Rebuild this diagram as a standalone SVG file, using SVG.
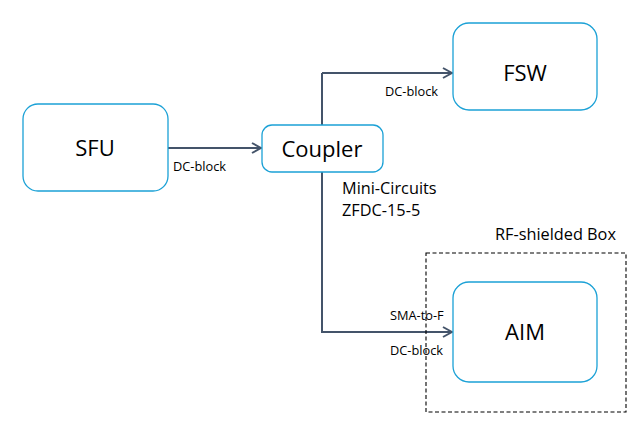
<svg xmlns="http://www.w3.org/2000/svg" width="642" height="433" viewBox="0 0 642 433">
<style>
.node{fill:#fff;stroke:#1ba1d6;stroke-width:1.3}
.big{font-family:"Open Sans","Liberation Sans",sans-serif;font-size:22px;fill:#000;text-anchor:middle}
.lbl{font-family:"Open Sans","Liberation Sans",sans-serif;font-size:12.8px;fill:#000}
.mid{font-family:"Open Sans","Liberation Sans",sans-serif;font-size:16.3px;fill:#000}
.wire{fill:none;stroke:#44546a;stroke-width:2}
</style>
<defs>
<marker id="arr" viewBox="0 0 12 12" refX="11" refY="6" markerWidth="12" markerHeight="12" markerUnits="userSpaceOnUse" orient="auto">
<path d="M2,1 L11,6 L2,11" fill="none" stroke="#44546a" stroke-width="2"/>
</marker>
</defs>
<rect width="642" height="433" fill="#fff"/>
<g id="connectors">
<line class="wire" x1="168" y1="148" x2="261" y2="148" marker-end="url(#arr)"/>
<line class="wire" x1="322" y1="125" x2="322" y2="73"/>
<polyline class="wire" points="322,73 452,73" marker-end="url(#arr)"/>
<polyline class="wire" points="322,172 322,332 452,332" marker-end="url(#arr)"/>
</g>
<g id="box">
<rect x="426" y="253" width="200" height="159" fill="none" stroke="#000" stroke-width="1.1" stroke-dasharray="4,2.5"/>
<text class="mid" x="495" y="240">RF-shielded Box</text>
</g>
<g id="sfu">
<rect class="node" x="23" y="104" width="145" height="87" rx="15"/>
<text class="big" x="95" y="156">SFU</text>
</g>
<g id="coupler">
<rect class="node" x="262" y="125" width="121" height="47" rx="10"/>
<text class="big" x="322" y="157">Coupler</text>
</g>
<g id="fsw">
<rect class="node" x="453" y="23" width="144" height="87" rx="16"/>
<text class="big" x="525" y="81">FSW</text>
</g>
<g id="aim">
<rect class="node" x="453" y="282" width="144" height="100" rx="16"/>
<text class="big" x="525" y="340">AIM</text>
</g>
<g id="labels">
<text class="lbl" x="173" y="171">DC-block</text>
<text class="lbl" x="385" y="96">DC-block</text>
<text class="mid" x="342" y="194">Mini-Circuits</text>
<text class="mid" x="342" y="216">ZFDC-15-5</text>
<text class="lbl" x="390" y="320">SMA-to-F</text>
<text class="lbl" x="390" y="355">DC-block</text>
</g>
</svg>
